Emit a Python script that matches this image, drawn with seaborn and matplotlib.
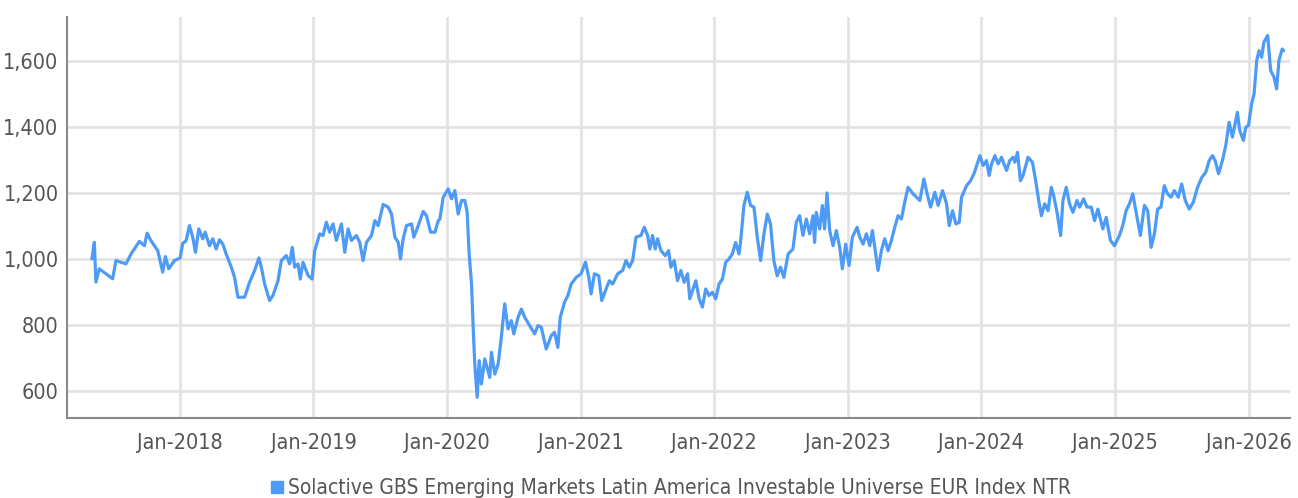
import seaborn as sns
import numpy as np
import pandas as pd
import matplotlib
matplotlib.use("Agg")
import matplotlib.pyplot as plt
import matplotlib.dates as mdates
from matplotlib.lines import Line2D
from matplotlib.ticker import FuncFormatter

sns.set_style("white")
plt.rcParams['font.family'] = ['DejaVu Sans']
plt.rcParams['font.stretch'] = 'condensed'

series_name = "Solactive GBS Emerging Markets Latin America Investable Universe EUR Index NTR"
line_color = "#4d9bf7"

# decimal years, with index level
years = [
    2017.340, 2017.358, 2017.370, 2017.395, 2017.445, 2017.495, 2017.520, 2017.558, 2017.595, 2017.633,
    2017.695, 2017.733, 2017.753, 2017.783, 2017.833, 2017.870, 2017.890, 2017.915, 2017.958,
    2018.000, 2018.020, 2018.045, 2018.070, 2018.095, 2018.115, 2018.140, 2018.170, 2018.188, 2018.220,
    2018.245, 2018.270, 2018.295, 2018.320, 2018.345, 2018.383, 2018.408, 2018.433, 2018.483, 2018.520,
    2018.558, 2018.590, 2018.608, 2018.633, 2018.670, 2018.695, 2018.733, 2018.758, 2018.795, 2018.820,
    2018.840, 2018.858, 2018.883, 2018.900, 2018.920, 2018.958, 2018.988,
    2019.008, 2019.045, 2019.070, 2019.095, 2019.120, 2019.145, 2019.170, 2019.208, 2019.233, 2019.258,
    2019.283, 2019.320, 2019.345, 2019.370, 2019.395, 2019.433, 2019.458, 2019.483, 2019.520, 2019.558,
    2019.583, 2019.608, 2019.633, 2019.650, 2019.670, 2019.695, 2019.733, 2019.750, 2019.783, 2019.820,
    2019.845, 2019.875, 2019.908, 2019.933, 2019.945, 2019.970,
    2020.007, 2020.032, 2020.057, 2020.082, 2020.107, 2020.132, 2020.149, 2020.164, 2020.182, 2020.194,
    2020.206, 2020.224, 2020.239, 2020.256, 2020.281, 2020.318, 2020.331, 2020.356, 2020.381, 2020.405,
    2020.430, 2020.455, 2020.480, 2020.498, 2020.530, 2020.555, 2020.580, 2020.617, 2020.654, 2020.679,
    2020.704, 2020.741, 2020.779, 2020.803, 2020.828, 2020.846, 2020.878, 2020.903, 2020.928, 2020.965,
    2021.002, 2021.035, 2021.060, 2021.077, 2021.102, 2021.134, 2021.157, 2021.189, 2021.214, 2021.239,
    2021.276, 2021.313, 2021.338, 2021.363, 2021.388, 2021.413, 2021.450, 2021.475, 2021.500, 2021.517,
    2021.537, 2021.557, 2021.575, 2021.600, 2021.632, 2021.657, 2021.674, 2021.699, 2021.724, 2021.749,
    2021.774, 2021.799, 2021.816, 2021.836, 2021.861, 2021.886, 2021.910, 2021.935, 2021.960, 2021.985,
    2022.010, 2022.035, 2022.060, 2022.085, 2022.109, 2022.134, 2022.159, 2022.184, 2022.197, 2022.221,
    2022.246, 2022.271, 2022.296, 2022.321, 2022.346, 2022.371, 2022.396, 2022.420, 2022.445, 2022.470,
    2022.495, 2022.520, 2022.552, 2022.588, 2022.613, 2022.638, 2022.663, 2022.688, 2022.713, 2022.738,
    2022.750, 2022.763, 2022.788, 2022.808, 2022.825, 2022.843, 2022.863, 2022.888, 2022.913, 2022.938,
    2022.958, 2022.983,
    2023.008, 2023.033, 2023.068, 2023.088, 2023.113, 2023.138, 2023.163, 2023.183, 2023.213, 2023.225,
    2023.250, 2023.275, 2023.300, 2023.325, 2023.350, 2023.375, 2023.400, 2023.425, 2023.450, 2023.488,
    2023.513, 2023.538, 2023.568, 2023.593, 2023.618, 2023.650, 2023.675, 2023.708, 2023.738, 2023.758,
    2023.783, 2023.808, 2023.833, 2023.850, 2023.888, 2023.918, 2023.943, 2023.968, 2023.988,
    2024.012, 2024.037, 2024.057, 2024.075, 2024.100, 2024.124, 2024.149, 2024.187, 2024.211, 2024.236,
    2024.249, 2024.269, 2024.291, 2024.311, 2024.348, 2024.381, 2024.405, 2024.430, 2024.448, 2024.473,
    2024.498, 2024.522, 2024.540, 2024.565, 2024.592, 2024.609, 2024.634, 2024.659, 2024.684, 2024.714,
    2024.734, 2024.764, 2024.789, 2024.821, 2024.846, 2024.871, 2024.908, 2024.933, 2024.965, 2024.995,
    2025.032, 2025.057, 2025.082, 2025.107, 2025.132, 2025.157, 2025.189, 2025.219, 2025.244, 2025.269,
    2025.294, 2025.318, 2025.343, 2025.368, 2025.393, 2025.418, 2025.443, 2025.473, 2025.498, 2025.525,
    2025.555, 2025.585, 2025.617, 2025.649, 2025.679, 2025.704, 2025.729, 2025.749, 2025.774, 2025.803,
    2025.828, 2025.853, 2025.878, 2025.915, 2025.933, 2025.960, 2025.978, 2025.998,
    2026.022, 2026.040, 2026.060, 2026.077, 2026.097, 2026.114, 2026.142, 2026.164, 2026.189, 2026.209,
    2026.226, 2026.251, 2026.261,
]

values = [
    1000, 1050, 930, 970, 955, 940, 995, 990, 985, 1015,
    1053, 1040, 1078, 1055, 1025, 960, 1007, 970, 995,
    1003, 1047, 1055, 1101, 1066, 1020, 1091, 1061, 1081, 1040,
    1061, 1030, 1058, 1045, 1015, 975, 944, 884, 884, 929,
    965, 1003, 975, 924, 874, 889, 934, 995, 1010, 985,
    1035, 975, 985, 939, 990, 950, 939,
    1025, 1076, 1071, 1111, 1081, 1106, 1056, 1106, 1020, 1091,
    1056, 1071, 1050, 995, 1050, 1071, 1116, 1101, 1165, 1157,
    1136, 1066, 1050, 1000, 1061, 1101, 1106, 1066, 1101, 1144,
    1131, 1081, 1081, 1116, 1121, 1187,
    1212, 1182, 1207, 1136, 1177, 1177, 1141, 1015, 924, 793,
    682, 581, 692, 621, 697, 641, 717, 651, 682, 763,
    864, 788, 813, 773, 823, 848, 823, 798, 773, 798,
    793, 727, 768, 778, 732, 823, 869, 889, 924, 944,
    955, 990, 944, 894, 955, 949, 874, 909, 934, 924,
    955, 965, 995, 975, 995, 1066, 1071, 1096, 1071, 1030,
    1071, 1030, 1061, 1025, 1010, 1025, 975, 995, 934, 965,
    929, 955, 879, 904, 934, 879, 854, 909, 889, 899,
    879, 924, 939, 990, 1000, 1015, 1050, 1015, 1056, 1162,
    1202, 1162, 1157, 1066, 995, 1076, 1136, 1106, 995, 949,
    975, 944, 1015, 1030, 1111, 1131, 1071, 1121, 1076, 1131,
    1050, 1141, 1091, 1162, 1091, 1200, 1086, 1040, 1086, 1035,
    970, 1045,
    980, 1066, 1096, 1066, 1045, 1076, 1040, 1086, 1000, 965,
    1025, 1061, 1025, 1056, 1096, 1131, 1121, 1172, 1217, 1197,
    1187, 1177, 1242, 1197, 1157, 1202, 1162, 1207, 1167, 1101,
    1146, 1106, 1111, 1187, 1222, 1237, 1258, 1288, 1313,
    1283, 1298, 1253, 1288, 1313, 1288, 1308, 1268, 1298, 1308,
    1293, 1323, 1237, 1253, 1308, 1293, 1237, 1172, 1131, 1167,
    1146, 1217, 1192, 1141, 1071, 1177, 1217, 1167, 1141, 1177,
    1157, 1182, 1157, 1157, 1116, 1151, 1091, 1126, 1056, 1040,
    1071, 1101, 1146, 1167, 1197, 1141, 1071, 1162, 1146, 1035,
    1076, 1151, 1157, 1222, 1197, 1187, 1207, 1187, 1227, 1177,
    1151, 1172, 1217, 1247, 1263, 1298, 1313, 1298, 1258, 1298,
    1343, 1414, 1369, 1444, 1389, 1359, 1399, 1404,
    1470, 1500, 1601, 1631, 1611, 1657, 1677, 1571, 1551, 1515,
    1601, 1636, 1631,
]

y_ticks = [600, 800, 1000, 1200, 1400, 1600]
x_tick_years = [2018, 2019, 2020, 2021, 2022, 2023, 2024, 2025, 2026]


def to_date(y):
    return pd.Timestamp("2017-01-01") + pd.to_timedelta((y - 2017) * 365.25, unit="D")


df = pd.DataFrame({"date": [to_date(y) for y in years], "level": values})

fig = plt.figure(figsize=(12.98, 4.98), dpi=100)
ax = fig.add_axes([0.0516, 0.1606, 0.9422, 0.8053])

sns.lineplot(data=df, x="date", y="level", ax=ax, color=line_color, linewidth=2.3)

ax.set_xlim(pd.Timestamp("2017-02-26"), pd.Timestamp("2026-04-24"))
ax.set_ylim(518, 1733)
ax.set_xticks([pd.Timestamp(f"{y}-01-01") for y in x_tick_years])
ax.xaxis.set_major_formatter(mdates.DateFormatter("%b-%Y"))
ax.set_yticks(y_ticks)
ax.yaxis.set_major_formatter(FuncFormatter(lambda v, p: f"{int(v):,}"))

ax.grid(True, color="#e3e3e3", linewidth=2)
ax.set_axisbelow(True)
ax.tick_params(axis="both", length=0, labelsize=15.5, labelcolor="#555555")
ax.tick_params(axis="x", pad=11)
ax.tick_params(axis="y", pad=6)
for s in ["top", "right"]:
    ax.spines[s].set_visible(False)
for s in ["left", "bottom"]:
    ax.spines[s].set_color("#8a8a8a")
    ax.spines[s].set_linewidth(1.5)
ax.set_xlabel("")
ax.set_ylabel("")

handle = Line2D([], [], marker="s", linestyle="none", color=line_color, markersize=9)
fig.legend([handle], [series_name], loc="center", bbox_to_anchor=(0.516, 0.02),
           frameon=False, fontsize=15, handletextpad=0.1, labelcolor="#555555",
           handlelength=0.8)

fig.savefig("out.png", dpi=100)
